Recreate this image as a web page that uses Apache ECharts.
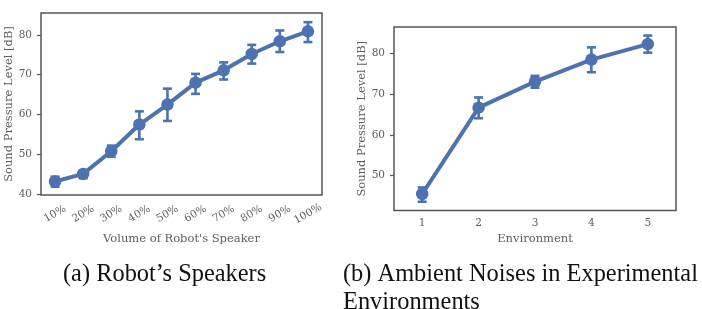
<!DOCTYPE html>
<html>
<head>
<meta charset="utf-8">
<script src="https://cdn.jsdelivr.net/npm/echarts@6/dist/echarts.min.js"></script>
<style>
  html, body { margin: 0; padding: 0; background: #fff; }
  #chart { width: 702px; height: 309px; }
</style>
</head>
<body>
<div id="chart"></div>
<script>
// (a) speaker volume vs sound pressure level
var speakerLevels = ['10%', '20%', '30%', '40%', '50%', '60%', '70%', '80%', '90%', '100%']
var speakerMean = [43.2, 45.1, 50.8, 57.5, 62.5, 68.0, 71.1, 75.2, 78.4, 80.9]
var speakerLow = [41.9, 44.0, 49.4, 53.8, 58.4, 65.2, 68.8, 72.8, 75.7, 78.2]
var speakerHigh = [44.4, 45.9, 52.2, 60.8, 66.5, 70.2, 73.1, 77.5, 81.1, 83.2]
var speakerTicks = [40, 50, 60, 70, 80]

// (b) ambient noise per environment
var envLabels = ['1', '2', '3', '4', '5']
var envMean = [45.5, 66.7, 73.1, 78.5, 82.3]
var envLow = [43.6, 64.1, 71.6, 75.4, 80.2]
var envHigh = [47.1, 69.2, 74.5, 81.5, 84.4]
var envTicks = [50, 60, 70, 80]

var blue = '#4c72b0'
var serif = 'DejaVu Serif'
var labelGray = '#5e5e5e'

// vertical error bar with caps
function errorBar(params, api) {
	var x = api.value(0)
	var lo = api.coord([x, api.value(1)])
	var hi = api.coord([x, api.value(2)])
	var cap = 4.5
	var style = { stroke: blue, lineWidth: 2.6 }
	return {
		type: 'group',
		children: [
			{ type: 'line', shape: { x1: lo[0], y1: lo[1], x2: hi[0], y2: hi[1] }, style: style },
			{ type: 'line', shape: { x1: lo[0] - cap, y1: lo[1], x2: lo[0] + cap, y2: lo[1] }, style: style },
			{ type: 'line', shape: { x1: hi[0] - cap, y1: hi[1], x2: hi[0] + cap, y2: hi[1] }, style: style }
		]
	}
}

function yAxisOf(idx, min, max, ticks, gap) {
	return {
		type: 'value',
		gridIndex: idx,
		min: min,
		max: max,
		name: 'Sound Pressure Level [dB]',
		nameLocation: 'middle',
		nameGap: gap,
		nameTextStyle: { fontFamily: serif, fontSize: 11.5, color: labelGray, verticalAlign: 'middle' },
		splitLine: { show: false },
		axisLine: { show: false },
		axisTick: { show: true, length: 4, customValues: ticks, lineStyle: { color: '#555', width: 1.2 } },
		axisLabel: { customValues: ticks, margin: 9, fontFamily: serif, fontSize: 10.5, color: labelGray }
	}
}

var chart = echarts.init(document.getElementById('chart'), null, { renderer: 'canvas' })

var captionStyle = { fontFamily: 'Liberation Serif', fontSize: 24.4, fontWeight: 'normal', color: '#111', lineHeight: 28 }

var option = {
	animation: false,
	backgroundColor: '#fff',
	title: [
		{ text: '(a) Robot\u2019s Speakers', left: 63, top: 261, padding: 0, textStyle: captionStyle },
		{ text: '(b) Ambient Noises in Experimental\nEnvironments', left: 343, top: 261, padding: 0, textStyle: captionStyle }
	],
	grid: [
		{ left: 41, top: 13, width: 281, height: 182, show: true, borderColor: '#555', borderWidth: 1.5, backgroundColor: '#fff' },
		{ left: 394, top: 27, width: 282, height: 183.5, show: true, borderColor: '#555', borderWidth: 1.5, backgroundColor: '#fff' }
	],
	xAxis: [
		{
			type: 'category',
			gridIndex: 0,
			data: speakerLevels,
			name: 'Volume of Robot\'s Speaker',
			nameLocation: 'middle',
			nameGap: 41,
			nameTextStyle: { fontFamily: serif, fontSize: 11.5, color: labelGray, verticalAlign: 'middle' },
			axisLine: { show: false },
			axisTick: { alignWithLabel: true, length: 4, lineStyle: { color: '#555', width: 1.2 } },
			axisLabel: { rotate: 30, align: 'center', verticalAlign: 'middle', margin: 19, fontFamily: serif, fontSize: 10.5, color: labelGray, interval: 0 }
		},
		{
			type: 'category',
			gridIndex: 1,
			data: envLabels,
			name: 'Environment',
			nameLocation: 'middle',
			nameGap: 27,
			nameTextStyle: { fontFamily: serif, fontSize: 11.5, color: labelGray, verticalAlign: 'middle' },
			axisLine: { show: false },
			axisTick: { alignWithLabel: true, length: 4, lineStyle: { color: '#555', width: 1.2 } },
			axisLabel: { margin: 7, fontFamily: serif, fontSize: 10.5, color: labelGray }
		}
	],
	yAxis: [
		yAxisOf(0, 39.8, 85.5, speakerTicks, 31),
		yAxisOf(1, 41.45, 86.5, envTicks, 30)
	],
	series: [
		{
			type: 'custom',
			xAxisIndex: 0, yAxisIndex: 0,
			renderItem: errorBar,
			encode: { x: 0, y: [1, 2] },
			data: speakerLevels.map(function (c, i) { return [i, speakerLow[i], speakerHigh[i]] }),
			z: 3
		},
		{
			type: 'line',
			xAxisIndex: 0, yAxisIndex: 0,
			data: speakerMean,
			symbol: 'circle',
			symbolSize: 12.5,
			lineStyle: { color: blue, width: 4 },
			itemStyle: { color: blue },
			z: 4
		},
		{
			type: 'custom',
			xAxisIndex: 1, yAxisIndex: 1,
			renderItem: errorBar,
			encode: { x: 0, y: [1, 2] },
			data: envLabels.map(function (c, i) { return [i, envLow[i], envHigh[i]] }),
			z: 3
		},
		{
			type: 'line',
			xAxisIndex: 1, yAxisIndex: 1,
			data: envMean,
			symbol: 'circle',
			symbolSize: 12.5,
			lineStyle: { color: blue, width: 4 },
			itemStyle: { color: blue },
			z: 4
		}
	]
}

chart.setOption(option)
</script>
</body>
</html>
